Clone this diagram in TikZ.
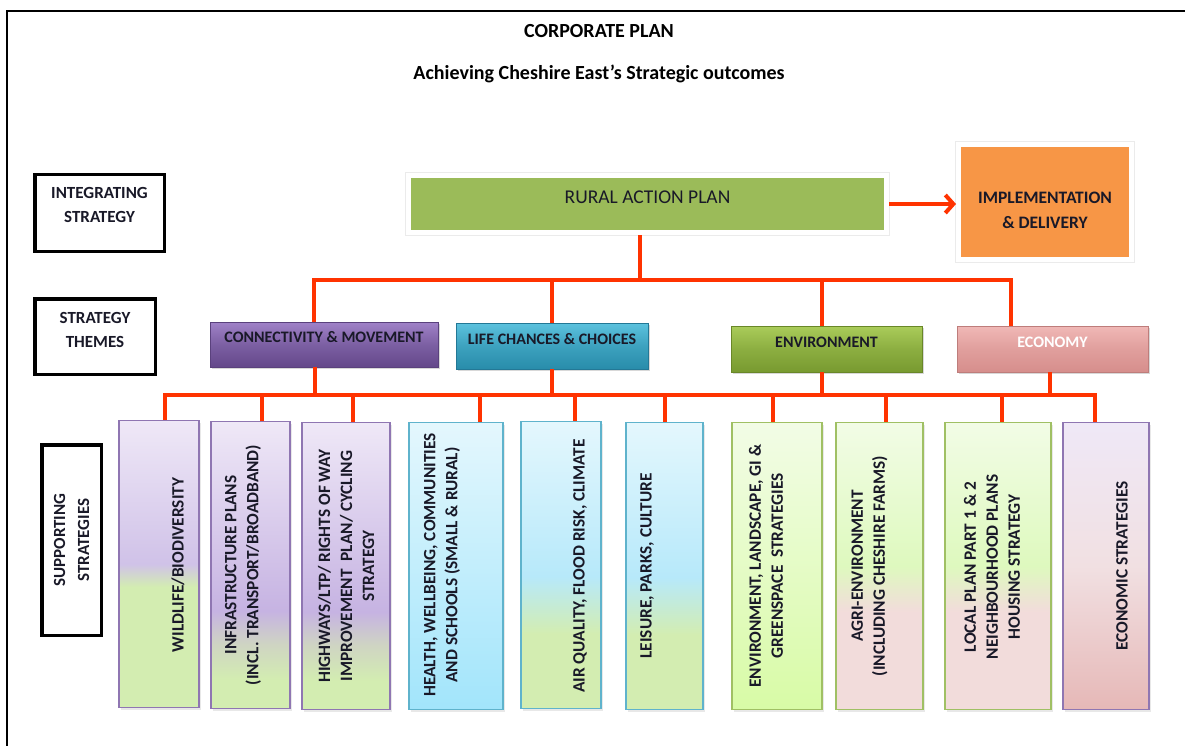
\documentclass[tikz,border=0pt]{standalone}
\usepackage{fontspec}
\setmainfont{Carlito}
\usetikzlibrary{positioning, arrows.meta, shadows}

\definecolor{redline}{RGB}{255,51,0}
\definecolor{planfill}{RGB}{155,187,89}
\definecolor{delivfill}{RGB}{247,150,70}
\definecolor{inktext}{RGB}{25,25,40}
% theme colours
\definecolor{plumtop}{RGB}{160,130,200}
\definecolor{plumbot}{RGB}{100,72,138}
\definecolor{plumedge}{RGB}{90,65,125}
\definecolor{tealtop}{RGB}{92,194,222}
\definecolor{tealbot}{RGB}{40,140,170}
\definecolor{tealedge}{RGB}{35,120,150}
\definecolor{olivetop}{RGB}{170,204,90}
\definecolor{olivebot}{RGB}{120,154,48}
\definecolor{oliveedge}{RGB}{105,135,40}
\definecolor{salmtop}{RGB}{240,184,182}
\definecolor{salmbot}{RGB}{214,142,140}
\definecolor{salmedge}{RGB}{190,125,123}
% supporting strategy colours
\definecolor{lavtop}{RGB}{239,232,247}
\definecolor{lavmid}{RGB}{208,194,232}
\definecolor{lavdeep}{RGB}{198,179,226}
\definecolor{lavedge}{RGB}{143,118,178}
\definecolor{leafpale}{RGB}{211,237,177}
\definecolor{greygreen}{RGB}{207,213,194}
\definecolor{skytop}{RGB}{228,247,253}
\definecolor{skymid}{RGB}{183,233,250}
\definecolor{skydeep}{RGB}{162,229,251}
\definecolor{skyedge}{RGB}{95,179,204}
\definecolor{limetop}{RGB}{242,252,230}
\definecolor{limemid}{RGB}{222,249,190}
\definecolor{limedeep}{RGB}{216,251,166}
\definecolor{limeedge}{RGB}{160,192,100}
\definecolor{rosepale}{RGB}{242,220,219}
\definecolor{roselight}{RGB}{241,224,226}
\definecolor{rosedeep}{RGB}{230,184,183}

\pgfdeclareverticalshading{wildgrad}{100bp}{color(0bp)=(leafpale); color(25bp)=(leafpale); color(46bp)=(leafpale); color(50bp)=(lavmid); color(75bp)=(lavtop); color(100bp)=(lavtop)}
\pgfdeclareverticalshading{infragrad}{100bp}{color(0bp)=(leafpale); color(25bp)=(leafpale); color(30bp)=(leafpale); color(36bp)=(greygreen); color(42bp)=(lavdeep); color(75bp)=(lavtop); color(100bp)=(lavtop)}
\pgfdeclareverticalshading{healthgrad}{100bp}{color(0bp)=(skydeep); color(25bp)=(skydeep); color(75bp)=(skytop); color(100bp)=(skytop)}
\pgfdeclareverticalshading{airgrad}{100bp}{color(0bp)=(leafpale); color(25bp)=(leafpale); color(38bp)=(leafpale); color(48bp)=(skymid); color(75bp)=(skytop); color(100bp)=(skytop)}
\pgfdeclareverticalshading{landgrad}{100bp}{color(0bp)=(limedeep); color(25bp)=(limedeep); color(75bp)=(limetop); color(100bp)=(limetop)}
\pgfdeclareverticalshading{agrigrad}{100bp}{color(0bp)=(rosepale); color(25bp)=(rosepale); color(42bp)=(rosepale); color(50bp)=(limemid); color(75bp)=(limetop); color(100bp)=(limetop)}
\pgfdeclareverticalshading{ecograd}{100bp}{color(0bp)=(rosedeep); color(25bp)=(rosedeep); color(50bp)=(roselight); color(75bp)=(lavtop); color(100bp)=(lavtop)}

\tikzset{
    headtext/.style={font=\bfseries\fontsize{20}{24}\selectfont, text=black},
    labelbox/.style={rectangle, draw=black, line width=3.5pt, align=center,
                     font=\bfseries\fontsize{17}{24}\selectfont, text=inktext},
    planbox/.style={rectangle, draw=white, line width=5pt, align=center,
                    preaction={draw=black!8, line width=7pt}, text=inktext},
    themebox/.style={rectangle, line width=0.8pt, font=\bfseries\fontsize{16}{18}\selectfont,
                     text=inktext, text height=11pt, text depth=14.5pt,
                     drop shadow={shadow xshift=2pt, shadow yshift=-2pt, opacity=0.3}},
    stratbox/.style={rectangle, line width=1.2pt, minimum height=287pt,
                     drop shadow={shadow xshift=2pt, shadow yshift=-2pt, opacity=0.18}},
    strattext/.style={rotate=90, align=center, inner sep=0pt, text=inktext,
                      font=\bfseries\fontsize{17.3}{22}\selectfont},
    redlink/.style={draw=redline, line width=4pt},
    redarrow/.style={-{Straight Barb[length=8pt, width=18pt]}, draw=redline, line width=4pt},
}

\begin{document}
\begin{tikzpicture}[x=1pt, y=-1pt]
\fill[white] (0,0) rectangle (1185,746);
\useasboundingbox (0,0) rectangle (1185,746);
\draw[line width=1.5pt] (7,746) -- (7,11) -- (1185,11);

% heading
\node[headtext] (title) at (599,31) {CORPORATE PLAN};
\node[headtext] (subtitle) at (599,74) {Achieving Cheshire East’s Strategic outcomes};

% row labels
\node[labelbox, minimum width=129.5pt, minimum height=76.5pt, text height=21pt, text depth=2pt] (integ) at (99.5,213) {INTEGRATING\\STRATEGY};
\node[labelbox, minimum width=120.5pt, minimum height=75.5pt, text height=23pt, text depth=2pt] (themelbl) at (95,336.5) {STRATEGY\\THEMES};
\node[labelbox, rotate=90, minimum width=190.5pt, minimum height=59.5pt] (suplbl) at (71.5,540) {SUPPORTING\\STRATEGIES};

% integrating strategy
\node[planbox, fill=planfill, minimum width=478pt, minimum height=57pt, text height=13pt, text depth=14.4pt,
      font=\fontsize{19.5}{22}\selectfont] (rural) at (647.5,204) {RURAL ACTION PLAN};
\node[planbox, fill=delivfill, minimum width=173pt, minimum height=115pt, text height=55pt, text depth=1.8pt,
      font=\bfseries\fontsize{17.5}{25}\selectfont] (deliv) at (1045,202) {IMPLEMENTATION\\\& DELIVERY};
\draw[redarrow] (rural.east) -- (rural.east -| deliv.west);

% strategy themes
\node[themebox, draw=plumedge, top color=plumtop, bottom color=plumbot, middle color=plumtop!40!plumbot,
      minimum width=228pt, minimum height=45pt] (connect) at (324,344.5) {CONNECTIVITY \& MOVEMENT};
\node[themebox, draw=tealedge, top color=tealtop, bottom color=tealbot, middle color=tealtop!40!tealbot,
      minimum width=192pt, minimum height=46pt] (lifech) at (552,346) {LIFE CHANCES \& CHOICES};
\node[themebox, draw=oliveedge, top color=olivetop, bottom color=olivebot, middle color=olivetop!40!olivebot,
      minimum width=191pt, minimum height=46pt] (enviro) at (826.5,349) {ENVIRONMENT};
\node[themebox, draw=salmedge, top color=salmtop, bottom color=salmbot, middle color=salmtop!40!salmbot,
      minimum width=191pt, minimum height=46pt, text=white] (econ) at (1052.5,349) {ECONOMY};

\coordinate (topbus) at (640,280);
\draw[redlink] (rural.south -| topbus) -- (topbus);
\draw[redlink] ([xshift=-10pt]connect.north) |- (topbus) -| ([xshift=-42pt]econ.north);
\draw[redlink] (lifech.north) -- (lifech.north |- topbus);
\draw[redlink] ([xshift=-5pt]enviro.north) -- ([xshift=-5pt]enviro.north |- topbus);

% supporting strategies
\node[stratbox, draw=lavedge, shading=wildgrad, minimum width=80pt] (wild) at (159,564) {};
\node[stratbox, draw=lavedge, shading=infragrad, minimum width=79pt] (infra) at (250.5,565) {};
\node[stratbox, draw=lavedge, shading=infragrad, minimum width=88pt] (highw) at (346,566) {};
\node[stratbox, draw=skyedge, shading=healthgrad, minimum width=94pt] (health) at (456,566) {};
\node[stratbox, draw=skyedge, shading=airgrad, minimum width=80pt] (airq) at (561,565) {};
\node[stratbox, draw=skyedge, shading=airgrad, minimum width=77pt] (leis) at (664.5,566) {};
\node[stratbox, draw=limeedge, shading=landgrad, minimum width=90pt] (landsc) at (777,566) {};
\node[stratbox, draw=limeedge, shading=agrigrad, minimum width=87pt] (agri) at (879.5,566) {};
\node[stratbox, draw=limeedge, shading=agrigrad, minimum width=106pt] (localp) at (998,566) {};
\node[stratbox, draw=lavedge, shading=ecograd, minimum width=86pt] (ecostr) at (1106,566) {};

\node[strattext] (wildtxt) at (178,565) {WILDLIFE/BIODIVERSITY};
\node[strattext] (infratxt) at (243,565) {INFRASTRUCTURE PLANS\\(INCL. TRANSPORT/BROADBAND)};
\node[strattext] (highwtxt) at (346,566) {HIGHWAYS/LTP/ RIGHTS OF WAY\\IMPROVEMENT\ \ PLAN/ CYCLING\\STRATEGY};
\node[strattext] (healthtxt) at (442,565) {HEALTH, WELLBEING, COMMUNITIES\\AND SCHOOLS (SMALL \& RURAL)};
\node[strattext] (airqtxt) at (580,566) {AIR QUALITY, FLOOD RISK, CLIMATE};
\node[strattext] (leistxt) at (647,566) {LEISURE, PARKS, CULTURE};
\node[strattext] (landsctxt) at (766,566) {ENVIRONMENT, LANDSCAPE, GI \&\\GREENSPACE\ \ STRATEGIES};
\node[strattext] (agritxt) at (869.5,566) {AGRI-ENVIRONMENT\\(INCLUDING CHESHIRE FARMS)};
\node[strattext] (localptxt) at (992,567) {LOCAL PLAN PART 1 \& 2\\NEIGHBOURHOOD PLANS\\HOUSING STRATEGY};
\node[strattext] (ecostrtxt) at (1122,566) {ECONOMIC STRATEGIES};

\coordinate (lowbus) at (640,395);
\draw[redlink] ([xshift=-9pt]connect.south) -- ([xshift=-9pt]connect.south |- lowbus);
\draw[redlink] (lifech.south) -- (lifech.south |- lowbus);
\draw[redlink] ([xshift=-4.5pt]enviro.south) -- ([xshift=-4.5pt]enviro.south |- lowbus);
\draw[redlink] ([xshift=-2.5pt]econ.south) -- ([xshift=-2.5pt]econ.south |- lowbus);
\draw[redlink] ([xshift=6pt]wild.north) |- (lowbus) -| ([xshift=-11pt]ecostr.north);
\draw[redlink] ([xshift=11.5pt]infra.north) -- ([xshift=11.5pt]infra.north |- lowbus);
\draw[redlink] ([xshift=7pt]highw.north) -- ([xshift=7pt]highw.north |- lowbus);
\draw[redlink] ([xshift=24pt]health.north) -- ([xshift=24pt]health.north |- lowbus);
\draw[redlink] ([xshift=14pt]airq.north) -- ([xshift=14pt]airq.north |- lowbus);
\draw[redlink] (leis.north) -- (leis.north |- lowbus);
\draw[redlink] ([xshift=-4pt]landsc.north) -- ([xshift=-4pt]landsc.north |- lowbus);
\draw[redlink] ([xshift=6.5pt]agri.north) -- ([xshift=6.5pt]agri.north |- lowbus);
\draw[redlink] ([xshift=4pt]localp.north) -- ([xshift=4pt]localp.north |- lowbus);
\end{tikzpicture}
\end{document}
